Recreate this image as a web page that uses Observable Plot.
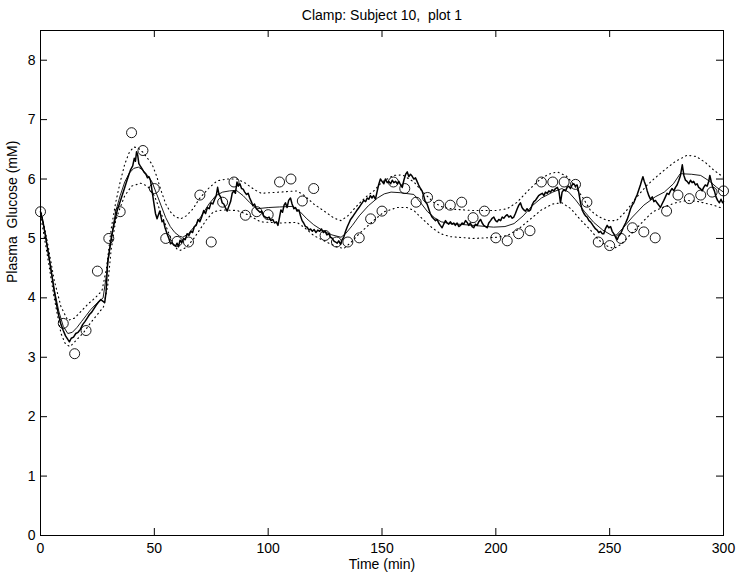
<!DOCTYPE html>
<html>
<head>
<meta charset="utf-8">
<script src="https://cdn.jsdelivr.net/npm/d3@7"></script>
<script src="https://cdn.jsdelivr.net/npm/@observablehq/plot@0.6"></script>
<style>
  html, body { margin: 0; padding: 0; background: white; }
</style>
</head>
<body>
<div id="chart"></div>
<script>
// ---- Data ----
const titleText = "Clamp: Subject 10,  plot 1";
const xLabelText = "Time (min)";
const yLabelText = "Plasma  Glucose (mM)";
const xTicks = [0, 50, 100, 150, 200, 250, 300];
const yTicks = [0, 1, 2, 3, 4, 5, 6, 7, 8];

// Sampled plasma glucose (circles): [time, value]
const samples = [
  [0,5.45],[10,3.57],[15,3.06],[20,3.45],[25,4.45],[30,5.0],[35,5.45],[40,6.78],[45,6.48],[50,5.84],
  [55,5.0],[60,4.95],[65,4.94],[70,5.73],[75,4.94],[80,5.61],[85,5.95],[90,5.39],[95,5.45],[100,5.40],
  [105,5.95],[110,6.0],[115,5.63],[120,5.84],[125,5.05],[130,4.94],[135,4.94],[140,5.01],[145,5.33],[150,5.46],
  [155,5.95],[160,5.84],[165,5.61],[170,5.69],[175,5.56],[180,5.56],[185,5.61],[190,5.35],[195,5.46],[200,5.01],
  [205,4.96],[210,5.08],[215,5.13],[220,5.95],[225,5.95],[230,5.95],[235,5.91],[240,5.61],[245,4.94],[250,4.88],
  [255,5.0],[260,5.18],[265,5.11],[270,5.01],[275,5.46],[280,5.73],[285,5.67],[290,5.73],[295,5.78],[300,5.80]
];

// Noisy trace (thick line): [time, value]
const trace = [
  [0,5.45],[1,5.3],[2,5.08],[3,4.85],[4,4.62],[5,4.38],[6,4.12],[7,3.9],[8,3.7],[9,3.55],[10,3.45],[11,3.36],[12,3.3],[12.7,3.26],
  [13.5,3.32],[14.5,3.34],[15.5,3.40],[16.5,3.42],[17.5,3.47],[18.5,3.55],[19.5,3.60],[20.5,3.66],[21.5,3.72],[22.5,3.76],
  [23.5,3.82],[24.5,3.88],[25.5,3.93],[26.5,3.97],[27.5,3.94],[28.2,3.92],[28.8,4.1],[29.5,4.6],[30.5,4.85],[31.5,5.08],
  [32.5,5.28],[33.7,5.47],[35,5.62],[36.6,5.81],[38,5.98],[39.5,6.15],[40.5,6.22],[41.2,6.35],[41.7,6.3],[42.2,6.46],
  [42.7,6.4],[43.2,6.26],[43.8,6.22],[44.5,6.18],[45.4,6.12],[46.3,6.08],[47,6.02],[47.6,6.04],[48.3,5.98],[49,5.8],
  [49.7,5.62],[50.5,5.42],[51.2,5.33],[51.8,5.40],[52.4,5.46],[53,5.35],[53.4,5.28],[54,5.3],[54.7,5.18],[55.6,5.08],
  [56.4,5.0],[57.1,4.91],[57.8,4.93],[58.5,4.89],[59.3,4.87],[60,4.92],[60.6,4.86],[61.3,4.97],[62,4.93],[62.8,5.0],
  [63.6,4.98],[64.4,5.08],[65.2,5.05],[66,5.12],[66.8,5.1],[67.6,5.2],[68.4,5.22],[69.2,5.32],[70,5.28],[70.8,5.36],
  [71.7,5.47],[72.5,5.42],[73.3,5.52],[74.1,5.5],[74.9,5.6],[75.7,5.58],[76.5,5.66],[77.2,5.72],[77.8,5.86],[78.4,5.74],
  [79.1,5.7],[79.8,5.6],[80.5,5.58],[81.2,5.52],[82,5.46],[82.8,5.55],[83.5,5.62],[84.2,5.76],[84.9,5.8],[85.6,5.76],
  [86.3,5.95],[86.9,5.88],[87.6,5.92],[88.3,5.84],[89,5.83],[89.7,5.78],[90.5,5.74],[91.2,5.76],[91.9,5.68],[92.6,5.62],
  [93.3,5.55],[94,5.58],[94.8,5.5],[95.6,5.47],[96.4,5.44],[97.2,5.46],[98,5.38],[98.8,5.36],[99.6,5.34],[100.4,5.36],
  [101.2,5.3],[102,5.32],[102.8,5.26],[103.6,5.28],[104.3,5.22],[105,5.36],[105.6,5.48],[106.3,5.44],[107,5.56],[107.6,5.6],
  [108.3,5.52],[109,5.64],[109.8,5.68],[110.5,5.58],[111.3,5.5],[112,5.52],[112.7,5.46],[113.5,5.48],[114.2,5.38],[114.9,5.3],
  [115.6,5.26],[116.4,5.2],[117.1,5.19],[117.9,5.14],[118.6,5.16],[119.4,5.12],[120.2,5.15],[121,5.1],[121.8,5.14],[122.6,5.12],
  [123.4,5.16],[124.2,5.1],[125,5.12],[125.8,5.06],[126.6,5.08],[127.4,5.02],[128.2,5.0],[128.8,4.96],[129.6,4.94],[130.3,4.92],
  [131,4.96],[131.8,4.9],[132.5,4.98],[133.2,5.02],[134,5.12],[134.8,5.2],[135.5,5.26],[136.2,5.32],[137,5.36],[137.7,5.4],
  [138.4,5.44],[139.1,5.48],[139.9,5.52],[140.6,5.56],[141.3,5.6],[142,5.64],[142.8,5.62],[143.5,5.68],[144.2,5.66],[144.9,5.72],
  [145.6,5.68],[146.3,5.72],[147.1,5.66],[147.8,5.78],[148.5,5.9],[149.3,6.0],[150,5.96],[150.8,5.92],[151.5,6.0],[152.3,5.94],
  [153,5.96],[153.8,5.92],[154.5,5.98],[155.2,5.94],[156,5.96],[156.7,5.92],[157.4,5.96],[158.2,5.9],[158.9,5.86],[159.6,5.98],
  [160.4,6.08],[161.1,6.12],[161.8,6.04],[162.5,6.08],[163.2,6.05],[164,6.0],[164.7,6.02],[165.4,5.96],[166.1,5.9],[166.9,5.84],
  [167.6,5.8],[168.3,5.72],[169,5.62],[169.8,5.58],[170.5,5.5],[171.2,5.42],[172,5.36],[172.7,5.33],[173.5,5.3],[174.2,5.32],
  [174.9,5.26],[175.6,5.22],[176.4,5.18],[177.1,5.24],[177.9,5.3],[178.6,5.26],[179.3,5.24],[180,5.28],[180.8,5.24],[181.5,5.26],
  [182.2,5.22],[183,5.26],[183.7,5.2],[184.5,5.22],[185.2,5.26],[185.9,5.24],[186.7,5.3],[187.4,5.27],[188.1,5.22],[188.8,5.26],
  [189.6,5.2],[190.3,5.18],[191,5.24],[191.8,5.22],[192.5,5.28],[193.3,5.32],[194,5.26],[194.7,5.22],[195.5,5.2],[196.2,5.18],
  [196.9,5.26],[197.7,5.3],[198.4,5.34],[199.1,5.36],[199.9,5.3],[200.6,5.28],[201.3,5.32],[202.1,5.3],[202.8,5.36],[203.5,5.34],
  [204.3,5.38],[205,5.4],[205.7,5.36],[206.5,5.38],[207.2,5.34],[207.9,5.36],[208.6,5.42],[209.4,5.5],[210.1,5.56],[210.8,5.6],
  [211.5,5.52],[212.3,5.48],[213,5.46],[213.7,5.5],[214.5,5.46],[215.2,5.48],[215.9,5.56],[216.7,5.62],[217.4,5.64],[218.1,5.68],
  [218.8,5.72],[219.6,5.74],[220.4,5.76],[221.1,5.72],[221.8,5.78],[222.6,5.76],[223.3,5.8],[224,5.78],[224.7,5.82],[225.5,5.8],
  [226.2,5.84],[227,5.86],[227.7,5.8],[228.4,5.6],[229.1,5.78],[229.9,5.82],[230.6,5.8],[231.3,5.86],[232,5.88],[232.8,5.84],
  [233.5,5.9],[234.2,5.92],[235,5.88],[235.7,5.9],[236.4,5.78],[237.2,5.6],[237.9,5.48],[238.7,5.42],[239.4,5.38],[240.1,5.36],
  [240.9,5.3],[241.6,5.28],[242.3,5.24],[243,5.2],[243.8,5.16],[244.5,5.14],[245.2,5.1],[246,5.12],[246.7,5.08],[247.4,5.08],
  [248.1,5.16],[248.9,5.22],[249.6,5.18],[250.4,5.2],[251.1,5.12],[251.8,5.08],[252.6,5.02],[253.3,4.98],[254,5.04],[254.8,5.08],
  [255.5,5.14],[256.2,5.2],[257,5.26],[257.7,5.32],[258.4,5.4],[259.2,5.5],[259.9,5.56],[260.6,5.6],[261.4,5.68],[262.1,5.74],
  [262.8,5.82],[263.5,5.9],[264.1,5.98],[264.6,6.04],[265.2,5.96],[265.8,5.9],[266.5,5.8],[267.2,5.72],[267.9,5.66],[268.7,5.7],
  [269.4,5.62],[270.1,5.64],[270.8,5.6],[271.6,5.56],[272.3,5.52],[273,5.58],[273.8,5.64],[274.5,5.7],[275.2,5.76],[276,5.74],
  [276.7,5.8],[277.4,5.84],[278.2,5.8],[278.9,5.86],[279.6,5.9],[280.4,5.98],[281.1,6.06],[281.9,6.24],[282.6,6.06],[283.3,5.98],
  [284,5.96],[284.8,5.92],[285.5,5.98],[286.2,5.94],[286.9,5.96],[287.7,5.9],[288.4,5.92],[289.1,5.86],[289.8,5.84],[290.6,5.8],
  [291.3,5.86],[292,5.9],[292.8,5.88],[293.5,5.96],[294,6.06],[294.6,5.96],[295.3,5.86],[296,5.8],[296.7,5.7],[297.4,5.64],
  [298.2,5.6],[298.9,5.66],[299.6,5.6],[300,5.62]
];

// Smooth model fit (thin line): [time, value]
const fit = [
  [0,5.45],[2,5.1],[4,4.62],[6,4.15],[8,3.78],[10,3.52],[12,3.40],[14,3.42],[16,3.5],[18,3.6],[20,3.7],[22,3.8],[24,3.88],
  [26,3.95],[27.5,4.0],[29,4.4],[31,5.0],[33,5.45],[35,5.72],[37,5.95],[39,6.1],[41,6.18],[43,6.2],[45,6.15],[47,6.06],
  [49,5.95],[51,5.75],[53,5.55],[55,5.35],[57,5.2],[59,5.1],[61,5.04],[62.5,5.02],[65,5.08],[68,5.22],[71,5.4],[74,5.58],
  [77,5.72],[80,5.78],[83,5.8],[86,5.81],[89,5.72],[92,5.6],[95,5.5],[100,5.52],[105,5.53],[111,5.54],[114,5.45],[117,5.33],
  [120,5.23],[124,5.13],[128,5.06],[132,5.02],[134,5.08],[137,5.22],[140,5.38],[144,5.55],[148,5.68],[151,5.75],[154,5.78],
  [158,5.77],[164,5.74],[167,5.6],[170,5.45],[173,5.35],[176,5.28],[180,5.25],[190,5.22],[199,5.19],[204,5.2],[208,5.25],
  [212,5.38],[216,5.55],[220,5.68],[225,5.78],[229,5.84],[232,5.78],[235,5.65],[239,5.45],[243,5.27],[247,5.14],[251,5.05],
  [253,5.06],[256,5.18],[260,5.36],[265,5.56],[270,5.7],[274,5.78],[278,5.92],[281,6.09],[286,6.08],[290,6.06],[294,5.96],
  [297,5.86],[300,5.78]
];

// Upper confidence band (dotted): [time, value]
const upper = [
  [0,5.5],[3,4.95],[6,4.3],[9,3.85],[12,3.62],[15,3.66],[18,3.78],[21,3.9],[24,4.0],[27,4.12],[29,4.5],[31,5.15],[33,5.6],
  [35,5.95],[37,6.25],[39,6.45],[41,6.54],[43,6.52],[45,6.45],[47,6.35],[49,6.25],[51,6.05],[53,5.8],[55,5.58],[57,5.45],
  [59,5.37],[61.5,5.33],[64,5.38],[67,5.5],[70,5.68],[74,5.85],[77.6,5.97],[82,6.0],[86.4,6.0],[90,5.93],[94,5.82],[97,5.76],
  [105,5.78],[112.7,5.8],[116,5.72],[120,5.58],[125,5.45],[129,5.34],[132,5.3],[135,5.38],[139,5.55],[143,5.7],[146.4,5.8],
  [150,5.95],[155,6.06],[159,6.07],[164,5.95],[168,5.78],[172.6,5.61],[177,5.52],[182,5.49],[190,5.47],[200,5.47],[205,5.5],
  [209.4,5.61],[214,5.8],[219,5.98],[223,6.08],[227,6.12],[231,6.05],[234,5.92],[238,5.7],[241.6,5.47],[245,5.37],[249,5.3],
  [253,5.3],[257,5.45],[262,5.7],[266,5.88],[269.4,6.0],[274,6.15],[279,6.3],[284,6.4],[288,6.38],[292,6.28],[295.7,6.15],
  [300,6.03]
];

// Lower confidence band (dotted): [time, value]
const lower = [
  [0,5.4],[3,4.72],[6,4.0],[9,3.4],[11,3.22],[13,3.18],[16,3.3],[19,3.42],[22,3.58],[25,3.72],[27.7,3.85],[29.5,4.2],[31,4.8],
  [33,5.3],[35,5.52],[37,5.72],[40,5.88],[44,5.93],[47,5.88],[50,5.72],[53,5.42],[56,5.12],[58,4.93],[60,4.82],[61.5,4.8],
  [64,4.85],[67,4.98],[70,5.15],[73,5.32],[76,5.45],[80,5.48],[86.4,5.47],[91,5.4],[96.6,5.28],[105,5.26],[112.7,5.27],
  [116,5.18],[120,5.05],[125,4.95],[130,4.86],[133.2,4.83],[136,4.92],[140,5.08],[146.3,5.3],[151,5.45],[156.7,5.52],
  [161,5.52],[164,5.47],[168,5.32],[172,5.18],[175.7,5.08],[180,5.03],[190,5.0],[200.7,5.02],[205,5.05],[209.4,5.14],
  [215,5.32],[220,5.48],[225,5.58],[229,5.6],[233,5.5],[237,5.32],[241.6,5.14],[245,4.98],[249,4.87],[251.8,4.83],[255,4.9],
  [260,5.1],[265,5.3],[269,5.45],[273.8,5.53],[279,5.6],[284,5.64],[289,5.62],[295.7,5.56],[300,5.5]
];

// ---- Layout ----
const W = 741, H = 580;
const mTop = 30, mLeft = 40, mRight = 18, mBottom = 45;
const plotW = W - mLeft - mRight, plotH = H - mTop - mBottom;
const tickLen = 7;
const px = d => d[0], py = d => d[1];

const chart = Plot.plot({
  width: W, height: H,
  marginTop: mTop, marginLeft: mLeft, marginRight: mRight, marginBottom: mBottom,
  x: {domain: [0, 300]},
  y: {domain: [0, 8.5]},
  style: {fontFamily: "'Liberation Sans', Arial, Helvetica, sans-serif", fontSize: "14px", background: "white", color: "black", whiteSpace: "pre", overflow: "visible"},
  marks: [
    Plot.axisX(xTicks, {anchor: "bottom", tickSize: 0, tickPadding: 8, label: null, tickFormat: d3.format("d"), fontSize: 14}),
    Plot.axisY(yTicks, {anchor: "left", tickSize: 0, tickPadding: 5, label: null, tickFormat: d3.format("d"), fontSize: 14}),
    // inward ticks on all four sides
    Plot.ruleX(xTicks, {x: d => d, insetTop: plotH - tickLen, stroke: "black", strokeWidth: 1}),
    Plot.ruleX(xTicks, {x: d => d, insetBottom: plotH - tickLen, stroke: "black", strokeWidth: 1}),
    Plot.ruleY(yTicks, {y: d => d, insetRight: plotW - tickLen, stroke: "black", strokeWidth: 1}),
    Plot.ruleY(yTicks, {y: d => d, insetLeft: plotW - tickLen, stroke: "black", strokeWidth: 1}),
    // bands
    Plot.line(upper, {x: px, y: py, stroke: "black", strokeWidth: 1.1, strokeDasharray: "1,3.5"}),
    Plot.line(lower, {x: px, y: py, stroke: "black", strokeWidth: 1.1, strokeDasharray: "1,3.5"}),
    // model fit
    Plot.line(fit, {x: px, y: py, stroke: "black", strokeWidth: 0.9}),
    // noisy trace
    Plot.line(trace, {x: px, y: py, stroke: "black", strokeWidth: 1.5}),
    // samples
    Plot.dot(samples, {x: px, y: py, r: 5, stroke: "black", strokeWidth: 0.9, fill: "none"}),
    Plot.frame({stroke: "black", strokeWidth: 1}),
    // texts
    Plot.text([titleText], {text: d => d, frameAnchor: "top", dy: -20, fontSize: 14}),
    Plot.text([xLabelText], {text: d => d, frameAnchor: "bottom", dy: 33, fontSize: 14}),
    Plot.text([yLabelText], {text: d => d, frameAnchor: "left", dx: -28, rotate: -90, fontSize: 14})
  ]
});
document.getElementById("chart").appendChild(chart);
</script>
</body>
</html>
